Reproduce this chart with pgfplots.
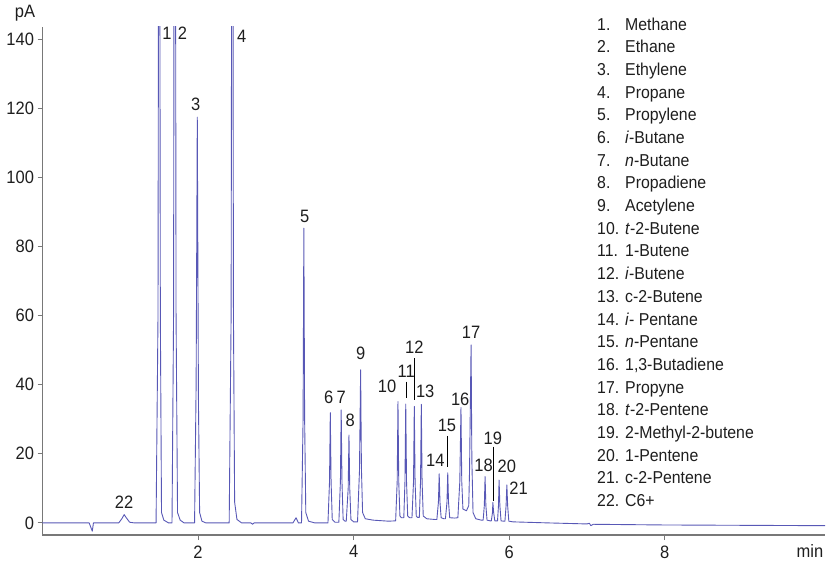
\documentclass[border=0pt]{standalone}
\usepackage{fontspec}
\setmainfont{Liberation Sans}[FakeStretch=0.92]
\usepackage{pgfplots}
\pgfplotsset{compat=1.18}
\definecolor{trace}{RGB}{88,88,182}
\definecolor{txt}{RGB}{30,30,30}
\definecolor{spine}{RGB}{120,120,120}
\begin{document}
\begin{tikzpicture}
\path[use as bounding box] (-42.5bp,-29bp) rectangle (786.5bp,535bp);
\begin{axis}[
  scale only axis, width=782.5bp, height=508bp,
  at={(0,0)}, anchor=south west,
  xmin=0, xmax=10.06, ymin=-3.5, ymax=143.5,
  axis x line*=bottom, axis y line*=left,
  axis line style={spine, line width=1.2pt, -},
  xtick={2,4,6,8}, ytick={0,20,40,60,80,100,120,140},
  tick style={spine, line width=1pt},
  tick align=outside, major tick length=5bp,
  /pgf/number format/assume math mode=true,
  ticklabel style={font=\fontsize{18}{20}\selectfont, text=txt},
  xticklabel style={yshift=-2bp},
  clip mode=individual,
]
\addplot[trace, line width=0.9pt, line join=round] coordinates {
(0,0) (0.60,0) (0.64,-2.4) (0.655,0)
(0.98,0) (1.02,1.2) (1.05,2.4) (1.08,1.4) (1.12,0.2) (1.18,0)
(1.46,0) (1.485,60) (1.50,300) (1.515,60) (1.53,3) (1.56,0.8) (1.62,0)
(1.665,0) (1.685,60) (1.699,300) (1.703,300) (1.717,60) (1.736,3) (1.77,0.8) (1.82,0)
(1.955,0) (1.975,40) (1.99,117.4) (2.005,35) (2.02,3) (2.05,0.5) (2.10,0)
(2.40,0) (2.425,60) (2.44,300) (2.455,60) (2.47,6) (2.50,1) (2.56,0)
(2.68,0) (2.70,-0.4) (2.72,0)
(3.22,0) (3.26,1.5) (3.29,0)
(3.33,0) (3.35,30) (3.36,85.3) (3.37,30) (3.385,3) (3.42,0.5) (3.50,0)
(3.67,0) (3.69,12) (3.70,31.9) (3.71,12) (3.725,1) (3.76,0.2)
(3.81,0.2) (3.83,12) (3.84,32.7) (3.85,12) (3.865,1) (3.89,0.5)
(3.905,0.5) (3.93,10) (3.94,25.4) (3.95,10) (3.965,1) (4.0,0.3)
(4.05,0.3) (4.075,15) (4.09,44.3) (4.10,16) (4.115,3) (4.15,1.2) (4.25,0.8) (4.45,0.5)
(4.54,0.6) (4.56,12) (4.57,35.1) (4.58,12) (4.595,2) (4.615,1.5)
(4.645,1.5) (4.66,12) (4.67,34.4) (4.68,12) (4.695,2) (4.72,1.5)
(4.75,1.5) (4.77,12) (4.78,33.7) (4.79,12) (4.805,2) (4.82,1.6)
(4.845,1.6) (4.86,12) (4.87,34.3) (4.88,12) (4.895,2) (4.94,1.2) (5.04,1.0)
(5.07,1.0) (5.09,6) (5.10,14.2) (5.11,6) (5.125,1.5) (5.16,1.2)
(5.18,1.2) (5.20,6) (5.21,14.5) (5.22,6) (5.235,1.5) (5.30,1.4)
(5.34,1.5) (5.365,12) (5.38,33.4) (5.39,12) (5.405,4) (5.45,3.5) (5.48,5)
(5.49,15) (5.51,51.5) (5.52,18) (5.535,3) (5.57,1.2) (5.64,0.8)
(5.665,0.8) (5.68,5) (5.69,13.4) (5.70,5) (5.715,0.8) (5.755,0.6)
(5.77,0.6) (5.785,3) (5.79,5.9) (5.80,3) (5.815,0.6) (5.84,0.6)
(5.85,0.6) (5.862,5) (5.87,12.4) (5.88,5) (5.895,0.6) (5.93,0.5)
(5.945,0.5) (5.96,5) (5.97,11.0) (5.98,5) (5.995,0.5) (6.05,0.3)
(6.5,0) (7.0,-0.3) (7.03,-0.1) (7.05,-0.8) (7.08,-0.4) (8,-0.6) (10.06,-0.8)
};
\begin{scope}[every node/.style={text=txt, inner sep=0pt, font=\fontsize{18}{20}\selectfont}]
\node at (axis cs:1.60,141.7) {1};
\node at (axis cs:1.80,141.7) {2};
\node at (axis cs:1.97,121.2) {3};
\node at (axis cs:2.56,140.9) {4};
\node at (axis cs:3.37,88.8) {5};
\node at (axis cs:3.68,36.4) {6};
\node at (axis cs:3.84,36.4) {7};
\node at (axis cs:3.955,29.8) {8};
\node at (axis cs:4.09,49.1) {9};
\node at (axis cs:4.43,39.4) {10};
\node at (axis cs:4.675,43.8) {11};
\node at (axis cs:4.78,50.8) {12};
\node at (axis cs:4.92,38.0) {13};
\node at (axis cs:5.05,18.2) {14};
\node at (axis cs:5.20,28.3) {15};
\node at (axis cs:5.37,35.9) {16};
\node at (axis cs:5.51,55.2) {17};
\node at (axis cs:5.67,16.8) {18};
\node at (axis cs:5.79,24.5) {19};
\node at (axis cs:5.97,16.3) {20};
\node at (axis cs:6.12,10.0) {21};
\node at (axis cs:1.05,5.9) {22};
\node at (axis description cs:0,1) [xshift=-17.5bp, yshift=14bp] {pA};
\node at (axis description cs:1,0) [xshift=-15bp, yshift=-16bp] {min};
\end{scope}
\draw[black, line width=0.6pt] (axis cs:4.675,40.9) -- (axis cs:4.675,36.1);
\draw[black, line width=0.6pt] (axis cs:4.78,47.6) -- (axis cs:4.78,35.6);
\draw[black, line width=0.6pt] (axis cs:5.20,25.2) -- (axis cs:5.20,16.3);
\draw[black, line width=0.6pt] (axis cs:5.79,22.1) -- (axis cs:5.79,6.2);
\end{axis}
\foreach \n/\t [count=\i] in {1./Methane, 2./Ethane, 3./Ethylene, 4./Propane, 5./Propylene, 6./{\textit{i}-Butane}, 7./{\textit{n}-Butane}, 8./Propadiene, 9./Acetylene, 10./{\textit{t}-2-Butene}, 11./1-Butene, 12./{\textit{i}-Butene}, 13./c-2-Butene, 14./{\textit{i}- Pentane}, 15./{\textit{n}-Pentane}, 16./{1,3-Butadiene}, 17./Propyne, 18./{\textit{t}-2-Pentene}, 19./2-Methyl-2-butene, 20./1-Pentene, 21./c-2-Pentene, 22./C6+} {
  \pgfmathsetmacro\yy{535-24-6.3-22.67*(\i-1)}
  \node[anchor=base west, inner sep=0pt, text=txt, font=\fontsize{17.3}{20}\selectfont] at (554.5bp,\yy bp) {\n};
  \node[anchor=base west, inner sep=0pt, text=txt, font=\fontsize{17.3}{20}\selectfont] at (582.5bp,\yy bp) {\t};
}
\end{tikzpicture}
\end{document}
